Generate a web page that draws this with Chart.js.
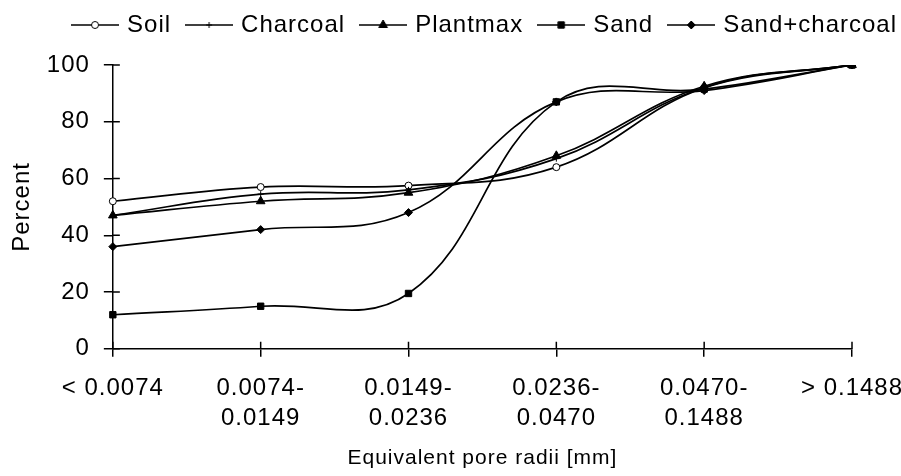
<!DOCTYPE html>
<html>
<head>
<meta charset="utf-8">
<script src="https://cdn.jsdelivr.net/npm/chart.js@4/dist/chart.umd.min.js"></script>
<style>
  body { margin: 0; background: #fff; }
  #box { width: 901px; height: 476px; }
</style>
</head>
<body>
<div id="box"><canvas id="grafica"></canvas></div>
<script>
// pore size classes (x axis)
const categories = [
  "< 0.0074",
  ["0.0074-", "0.0149"],
  ["0.0149-", "0.0236"],
  ["0.0236-", "0.0470"],
  ["0.0470-", "0.1488"],
  "> 0.1488"
];

// cumulative percent per substrate
const soil = [52, 57, 57.5, 64, 92, 100];
const charcoal = [47, 54.5, 56, 67, 92, 100];
const plantmax = [47, 52, 55, 68, 92.5, 100];
const sand = [12, 15, 19.5, 87, 91.5, 100];
const sandCharcoal = [36, 42, 48, 87, 91, 100];

const seriesNames = ["Soil", "Charcoal", "Plantmax", "Sand", "Sand+charcoal"];

Chart.defaults.font.family = "Liberation Sans";
Chart.defaults.color = "#000";

// marker look of each series
const marks = [
  { pointStyle: "circle", radius: 3.5, bg: "#fff" },
  { pointStyle: "cross", radius: 3, bg: "#000" },
  { pointStyle: "triangle", radius: 5, bg: "#000" },
  { pointStyle: "rect", radius: 4.5, bg: "#000" },
  { pointStyle: "rectRot", radius: 4, bg: "#000" }
];

// little line+marker pictures for the legend
function legendIcon(m) {
  const c = document.createElement("canvas");
  c.width = 48; c.height = 14;
  const g = c.getContext("2d");
  g.strokeStyle = "#000";
  g.lineWidth = 1.7;
  g.beginPath(); g.moveTo(0, 7); g.lineTo(48, 7); g.stroke();
  g.fillStyle = m.bg;
  g.lineWidth = 1;
  Chart.helpers.drawPoint(g, { pointStyle: m.pointStyle, radius: m.radius, rotation: 0, borderWidth: 1 }, 24, 7);
  return c;
}
const icons = marks.map(legendIcon);

const values = [soil, charcoal, plantmax, sand, sandCharcoal];

const data = {
  labels: categories,
  datasets: values.map((v, i) => ({
    label: seriesNames[i],
    data: v,
    order: values.length - i, // later series on top, like the original
    borderColor: "#000",
    borderWidth: 1.7,
    backgroundColor: marks[i].bg,
    pointStyle: marks[i].pointStyle,
    pointRadius: marks[i].radius,
    pointBorderColor: "#000",
    pointBackgroundColor: marks[i].bg,
    pointBorderWidth: 1,
    tension: 0.4
  }))
};

// old windows font was spaced out a bit
function spaceOut(chart) { chart.ctx.letterSpacing = "1px"; }

const tweaks = {
  id: "tweaks",
  beforeInit(chart) {
    // taller legend box so the plot starts lower
    const fit = chart.legend.fit;
    chart.legend.fit = function () {
      fit.call(this);
      this.height = 70;
    };
  },
  beforeUpdate: spaceOut,
  beforeLayout: spaceOut,
  beforeDraw: spaceOut,
  // the small tick marks inside the plot (the reference has crossing ticks)
  afterDatasetsDraw(chart) {
    const ctx = chart.ctx, sx = chart.scales.x, sy = chart.scales.y;
    ctx.save();
    ctx.strokeStyle = "#000";
    ctx.lineWidth = 1.5;
    ctx.beginPath();
    sy.ticks.forEach((t, i) => {
      const py = sy.getPixelForTick(i);
      ctx.moveTo(sy.right, py); ctx.lineTo(sy.right + 7, py);
    });
    sx.ticks.forEach((t, i) => {
      const px = sx.getPixelForTick(i);
      ctx.moveTo(px, sx.top); ctx.lineTo(px, sx.top - 7);
    });
    ctx.stroke();
    ctx.restore();
  }
};

const config = {
  type: "line",
  data: data,
  plugins: [tweaks],
  options: {
    responsive: true,
    maintainAspectRatio: false,
    animation: false,
    layout: { padding: { left: 8, right: -14, top: -5, bottom: 5 } },
    plugins: {
      tooltip: { enabled: false },
      legend: {
        position: "top",
        align: "end",
        labels: {
          font: { size: 24 },
          usePointStyle: true,
          pointStyleWidth: 40,
          padding: 18,
          generateLabels(chart) {
            return chart.data.datasets.map((ds, i) => ({
              text: ds.label,
              pointStyle: icons[i],
              fillStyle: "#000",
              strokeStyle: "#000",
              lineWidth: 0,
              hidden: false,
              datasetIndex: i,
              fontColor: "#000"
            }));
          }
        }
      }
    },
    scales: {
      x: {
        offset: false,
        grid: { display: true, drawOnChartArea: false, color: "#000", lineWidth: 1.5, tickLength: 8 },
        border: { color: "#000", width: 1.5 },
        ticks: { font: { size: 24, lineHeight: 1.25 }, maxRotation: 0, autoSkip: false, padding: 17 },
        title: { display: true, text: "Equivalent pore radii [mm]", font: { size: 21 }, padding: 0 },
        afterFit(s) {
          s.paddingRight = 49;
          s.height -= 5;
        }
      },
      y: {
        min: 0,
        max: 100,
        grid: { display: true, drawOnChartArea: false, color: "#000", lineWidth: 1.5, tickLength: 9 },
        border: { color: "#000", width: 1.5 },
        ticks: { stepSize: 20, font: { size: 24 }, padding: 14 },
        title: { display: true, text: "Percent", font: { size: 24 }, padding: 0 },
        afterFit(s) {
          s.width -= 4;
        }
      }
    }
  }
};

const grafica = document.getElementById("grafica");
let myChart = new Chart(grafica, config);
</script>
</body>
</html>
